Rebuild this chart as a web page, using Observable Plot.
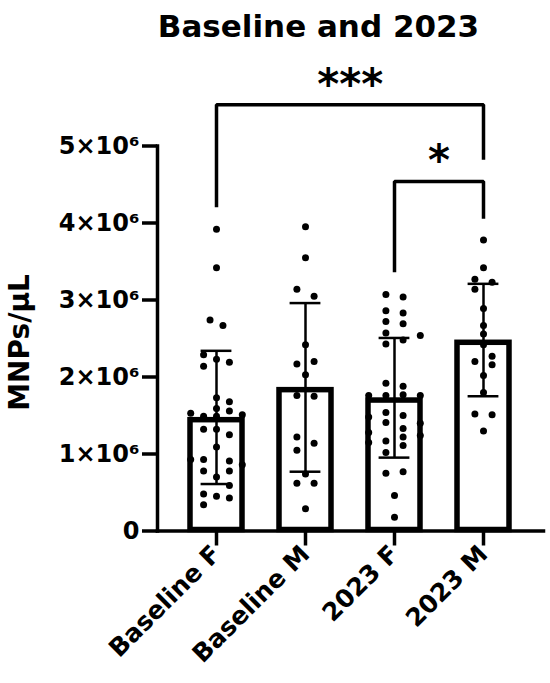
<!DOCTYPE html>
<html><head><meta charset="utf-8">
<script src="https://cdn.jsdelivr.net/npm/d3@7"></script>
<script src="https://cdn.jsdelivr.net/npm/@observablehq/plot@0.6"></script>
<style>
body{margin:0;background:#fff;}
#title{width:550px;height:52px;line-height:52px;box-sizing:border-box;padding-left:87px;text-align:center;font-family:"DejaVu Sans";font-weight:bold;font-size:31px;color:#000;white-space:nowrap;}
</style></head><body>
<div id="title">Baseline and 2023</div>
<div id="chart"></div>
<script>
// ---- data ----
const groups = ["Baseline F", "Baseline M", "2023 F", "2023 M"];
const means = [1.475e6, 1.865e6, 1.73e6, 2.48e6];
const sds = [0.865e6, 1.095e6, 0.777e6, 0.73e6];

const baselineF = [3.92,3.42,2.74,2.67,2.29,2.23,2.19,2.14,1.73,1.68,1.59,1.56,1.53,1.51,1.49,1.49,1.32,1.32,1.25,1.09,0.93,0.93,0.91,0.86,0.78,0.78,0.70,0.59,0.48,0.45,0.43,0.34];
const baselineFSlot = [0,0,-1.5,1.5,-3,0,3,-3,0,3,0,3,-6,6,-3,0,-3,0,3,0,-6,-3,3,6,-3,3,0,3,-3,0,3,-3];

const baselineM = [3.95,3.55,3.14,3.05,2.42,2.17,2.20,2.03,1.76,1.75,1.22,1.14,1.05,0.74,0.62,0.62,0.29];
const baselineMSlot = [0,0,-2,2,0,-2,2,0,-2,2,-2,2,-2,0,-2,2,0];

const f2023 = [3.07,3.04,2.86,2.83,2.72,2.69,2.57,2.54,2.48,2.43,1.92,1.88,1.77,1.76,1.76,1.76,1.54,1.41,1.17,1.02,1.50,1.33,1.22,1.11,1.48,1.28,1.15,1.40,1.24,0.75,0.77,0.46,0.18];
const f2023Slot = [-2,2,-2,2,-2,2,-2,6,2,-2,-2,2,2,-6,-2,6,-2,-2,-2,-2,2,2,2,2,-6,-6,-6,6,6,-2,2,0,0];

const m2023 = [3.78,3.42,3.27,3.23,3.14,2.89,2.67,2.56,2.42,2.20,2.27,2.16,2.02,1.80,1.52,1.51,1.30];
const m2023Slot = [0,0,-2,2,-2,0,0,0,0,-2,2,2,0,0,-2,2,0];

const yTicks = [0, 1e6, 2e6, 3e6, 4e6, 5e6];
const yTickLabels = ["0", "1×10⁶", "2×10⁶", "3×10⁶", "4×10⁶", "5×10⁶"];
const yLabel = "MNPs/µL";

const compFrom = ["Baseline F", "2023 F"];
const compTo = ["2023 M", "2023 M"];
const compY = [5.535e6, 4.539e6];
const compYFrom = [4.205e6, 3.361e6];
const compYTo = [4.82e6, 4.055e6];
const compLabel = ["***", "*"];

// ---- build tables ----
const summary = groups.map((g, i) => ({group: g, mean: means[i], lo: means[i] - sds[i], hi: means[i] + sds[i]}));
const series = [[baselineF, baselineFSlot], [baselineM, baselineMSlot], [f2023, f2023Slot], [m2023, m2023Slot]];
const points = series.flatMap(([vals, slots], i) => vals.map((v, j) => ({group: groups[i], value: v * 1e6, slot: slots[j]})));
const brackets = compFrom.flatMap((a, i) => [
  {k: i, x: a, y: compYFrom[i]},
  {k: i, x: a, y: compY[i]},
  {k: i, x: compTo[i], y: compY[i]},
  {k: i, x: compTo[i], y: compYTo[i]}
]);

// ---- layout ----
const W = 550, H = 631, mL = 157, mR = 7, mT = 93.5, mB = 152.5;
const pIn = 0.415, pOut = 0.371;
const step = (W - mL - mR) / (groups.length - pIn + 2 * pOut);
const bw = step * (1 - pIn);
const capW = 31, slotUnit = 4.3;

const slotValues = Array.from(new Set(points.map(d => d.slot)));
const dotMarks = slotValues.map(s => Plot.dot(points.filter(d => d.slot === s), {
  x: "group", y: "value", r: 3.5, fill: "black", dx: s * slotUnit
}));

const textMarks = compLabel.map((lab, i) => {
  const ia = groups.indexOf(compFrom[i]), ib = groups.indexOf(compTo[i]);
  return Plot.text([lab], {
    x: () => compFrom[i], y: () => compY[i], text: d => d,
    dx: (ib - ia) / 2 * step, dy: -6, lineAnchor: "bottom",
    fontSize: 42, fontWeight: "bold", fill: "black"
  });
});

const chart = Plot.plot({
  width: W, height: H,
  marginLeft: mL, marginRight: mR, marginTop: mT, marginBottom: mB,
  style: {fontFamily: "DejaVu Sans", fontWeight: "bold", color: "black", background: "white"},
  x: {type: "band", domain: groups, paddingInner: pIn, paddingOuter: pOut},
  y: {domain: [0, 5e6]},
  marks: [
    Plot.barY(summary, {x: "group", y: "mean", fill: "white", stroke: "black", strokeWidth: 5.5, insetTop: 2.75, insetBottom: 1}),
    Plot.ruleX(summary, {x: "group", y1: "lo", y2: "hi", stroke: "black", strokeWidth: 2.5}),
    Plot.tickY(summary, {x: "group", y: "hi", stroke: "black", strokeWidth: 2.5, insetLeft: (bw - capW) / 2, insetRight: (bw - capW) / 2}),
    Plot.tickY(summary, {x: "group", y: "lo", stroke: "black", strokeWidth: 2.5, insetLeft: (bw - capW) / 2, insetRight: (bw - capW) / 2}),
    ...dotMarks,
    Plot.line(brackets, {x: "x", y: "y", z: "k", stroke: "black", strokeWidth: 3.5, strokeLinejoin: "miter", strokeLinecap: "butt"}),
    ...textMarks,
    Plot.frame({anchor: "left", stroke: "black", strokeWidth: 3.5}),
    Plot.frame({anchor: "bottom", stroke: "black", strokeWidth: 3.5}),
    Plot.axisY({ticks: yTicks, tickFormat: d => yTickLabels[yTicks.indexOf(d)], tickSize: 15, tickPadding: 3, fontSize: 24, strokeWidth: 3.5, label: null}),
    Plot.axisX({tickSize: 15, tickPadding: 4, tickRotate: -45, fontSize: 25, strokeWidth: 3.5, label: null}),
    Plot.text([yLabel], {frameAnchor: "left", rotate: -90, dx: -(mL - 20), dy: 4, text: d => d, fontSize: 28, lineAnchor: "middle", textAnchor: "middle", fill: "black"})
  ]
});
document.getElementById("chart").appendChild(chart);
</script>
</body></html>
